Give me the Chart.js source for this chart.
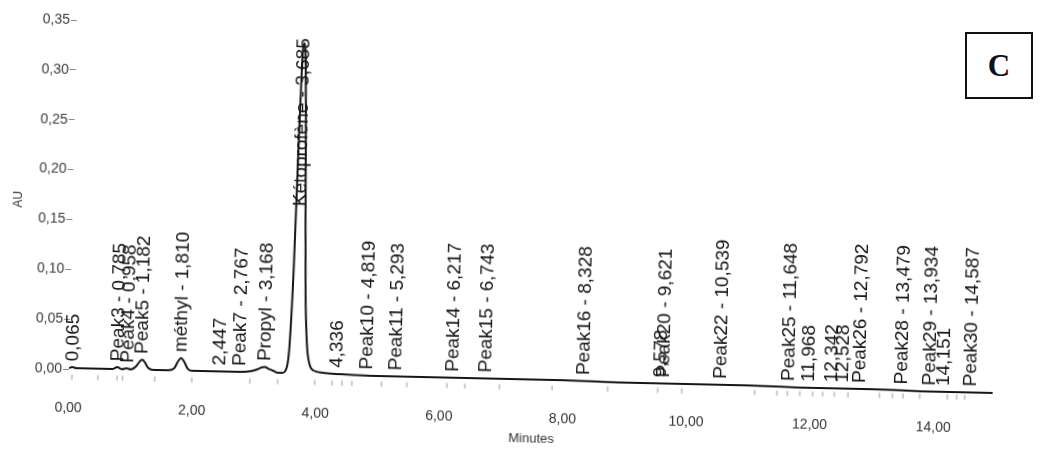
<!DOCTYPE html>
<html>
<head>
<meta charset="utf-8">
<script src="https://cdn.jsdelivr.net/npm/chart.js@4.4.1/dist/chart.umd.min.js"></script>
<style>
  html, body { margin: 0; padding: 0; background: #fff; }
  #wrap { position: relative; width: 1041px; height: 449px; overflow: hidden; background: #fff; }
  #chart { position: absolute; left: 0; top: 0; transform-origin: 69px 369px; transform: rotate(1.3deg); }
  #panel {
    position: absolute; left: 965px; top: 32px; width: 64px; height: 63px;
    border: 2px solid #111; background: #fff;
    font: bold 31px "Liberation Serif", "DejaVu Serif", serif; color: #111;
    display: flex; align-items: center; justify-content: center;
  }
</style>
</head>
<body>
<div id="wrap">
  <canvas id="chart" width="1041" height="449"></canvas>
  <div id="panel">C</div>
</div>
<script>
// Detector trace (retention time in minutes, absorbance in AU)
const traceTime = [
  0.00, 0.05, 0.12, 0.50, 0.70, 0.78, 0.86, 0.93, 1.00, 1.08, 1.14, 1.18, 1.22, 1.28, 1.36,
  1.60, 1.70, 1.76, 1.81, 1.86, 1.92, 2.00, 2.44, 2.76, 2.95, 3.05, 3.12, 3.17, 3.22, 3.30,
  3.38, 3.45, 3.52, 3.56, 3.60, 3.63, 3.655, 3.675, 3.695, 3.715, 3.74, 3.77, 3.80, 3.84,
  3.89, 3.96, 4.10, 4.40, 5.00, 6.00, 7.00, 8.00, 9.00, 10.00, 11.00, 12.00, 13.00, 14.00, 14.95
];
const traceAU = [
  0.001, 0.002, 0.001, 0.001, 0.001, 0.003, 0.001, 0.002, 0.001, 0.004, 0.009, 0.011, 0.009, 0.003, 0.001,
  0.001, 0.003, 0.010, 0.0135, 0.010, 0.003, 0.001, 0.001, 0.001, 0.002, 0.004, 0.006, 0.0065, 0.005, 0.003,
  0.001, 0.001, 0.006, 0.030, 0.110, 0.220, 0.300, 0.330, 0.332, 0.318, 0.260, 0.160, 0.080, 0.030,
  0.010, 0.004, 0.002, 0.001, 0.000, 0.000, 0.000, 0.000, -0.001, -0.001, -0.001, -0.002, -0.002, -0.003, -0.003
];

// Integrated peaks: names and retention times
const peakNames = [
  "", "Peak3", "Peak4", "Peak5", "méthyl", "", "Peak7", "Propyl", "Kétoprofène", "",
  "Peak10", "Peak11", "Peak14", "Peak15", "Peak16", "", "Peak20", "Peak22", "Peak25", "",
  "", "", "Peak26", "Peak28", "Peak29", "", "Peak30"
];
const peakTimes = [
  0.065, 0.785, 0.958, 1.182, 1.810, 2.447, 2.767, 3.168, 3.685, 4.336,
  4.819, 5.293, 6.217, 6.743, 8.328, 9.578, 9.621, 10.539, 11.648, 11.968,
  12.342, 12.528, 12.792, 13.479, 13.934, 14.151, 14.587
];

// Peak start / end markers under the trace
const markTimes = [
  0.05, 0.47, 0.78, 0.87, 1.39, 1.99, 2.93, 3.38, 3.98, 4.26, 4.42, 4.58, 5.06, 5.47,
  6.12, 6.41, 6.97, 7.82, 8.72, 9.53, 9.92, 11.10, 11.46, 11.63, 11.83, 12.04, 12.20,
  12.39, 12.61, 13.12, 13.33, 13.50, 13.77, 14.22, 14.37, 14.50
];
const markLevel = -0.008;

// Axis ticks
const xTicks = [0, 2, 4, 6, 8, 10, 12, 14];
const yTicks = [0, 0.05, 0.10, 0.15, 0.20, 0.25, 0.30, 0.35];

const fmt = (v, d) => v.toFixed(d).replace('.', ',');

function signalAt(t) {
  for (let i = 1; i < traceTime.length; i++) {
    if (t <= traceTime[i]) {
      const t0 = traceTime[i - 1], t1 = traceTime[i];
      const f = (t - t0) / (t1 - t0);
      return traceAU[i - 1] + f * (traceAU[i] - traceAU[i - 1]);
    }
  }
  return traceAU[traceAU.length - 1];
}

// Vertical peak annotations written upward from just above the trace
const peakLabels = {
  id: 'peakLabels',
  afterDatasetsDraw(chart) {
    const { ctx, chartArea, scales: { x, y } } = chart;
    ctx.save();
    ctx.font = '19px "Liberation Sans", Arial, sans-serif';
    ctx.fillStyle = '#141414';
    ctx.textAlign = 'left';
    ctx.textBaseline = 'middle';
    const limit = chartArea.top + 13;
    peakTimes.forEach((t, i) => {
      const text = peakNames[i] ? peakNames[i] + ' - ' + fmt(t, 3) : fmt(t, 3);
      const px = x.getPixelForValue(t);
      let start = y.getPixelForValue(signalAt(t)) - 6;
      const w = ctx.measureText(text).width;
      if (start - w < limit) start = limit + w;
      ctx.save();
      ctx.translate(px, start);
      ctx.rotate(-Math.PI / 2);
      ctx.fillText(text, 0, 0);
      ctx.restore();
    });
    ctx.restore();
  }
};

const tickFont = { family: '"Liberation Sans", Arial, sans-serif', size: 14 };

new Chart(document.getElementById('chart'), {
  type: 'line',
  data: {
    datasets: [
      {
        data: traceTime.map((t, i) => ({ x: t, y: traceAU[i] })),
        borderColor: '#161616',
        borderWidth: 2,
        pointRadius: 0,
        cubicInterpolationMode: 'monotone',
        fill: false
      },
      {
        type: 'scatter',
        data: markTimes.map(t => ({ x: t, y: markLevel })),
        pointStyle: 'line',
        rotation: 90,
        radius: 2.5,
        borderColor: '#9a9a9a',
        borderWidth: 1,
        showLine: false
      }
    ]
  },
  options: {
    responsive: false,
    animation: false,
    devicePixelRatio: 1,
    layout: { padding: { top: 20, right: 45, left: 0, bottom: 0 } },
    plugins: { legend: { display: false }, tooltip: { enabled: false } },
    scales: {
      x: {
        type: 'linear',
        min: 0,
        max: 15,
        afterBuildTicks: s => { s.ticks = xTicks.map(v => ({ value: v })); },
        afterFit: s => { s.height = 68; },
        ticks: { callback: v => fmt(v, 2), font: tickFont, color: '#333', padding: 19, maxRotation: 0 },
        grid: { display: false, drawTicks: false },
        border: { display: false },
        title: { display: true, text: 'Minutes', font: { family: '"Liberation Sans", Arial, sans-serif', size: 13 }, color: '#333', padding: { top: 0, bottom: 13 } }
      },
      y: {
        type: 'linear',
        min: -0.012,
        max: 0.35,
        afterBuildTicks: s => { s.ticks = yTicks.map(v => ({ value: v })); },
        afterFit: s => { s.width = 69; },
        ticks: { callback: v => fmt(v, 2), font: tickFont, color: '#3a3a3a', padding: 1 },
        grid: { drawOnChartArea: false, drawTicks: true, tickLength: 6, color: '#8a8a8a' },
        border: { display: false },
        title: { display: true, text: 'AU', font: { family: '"Liberation Sans", Arial, sans-serif', size: 12 }, color: '#333', padding: { top: 7, bottom: 0 } }
      }
    }
  },
  plugins: [peakLabels]
});
</script>
</body>
</html>
